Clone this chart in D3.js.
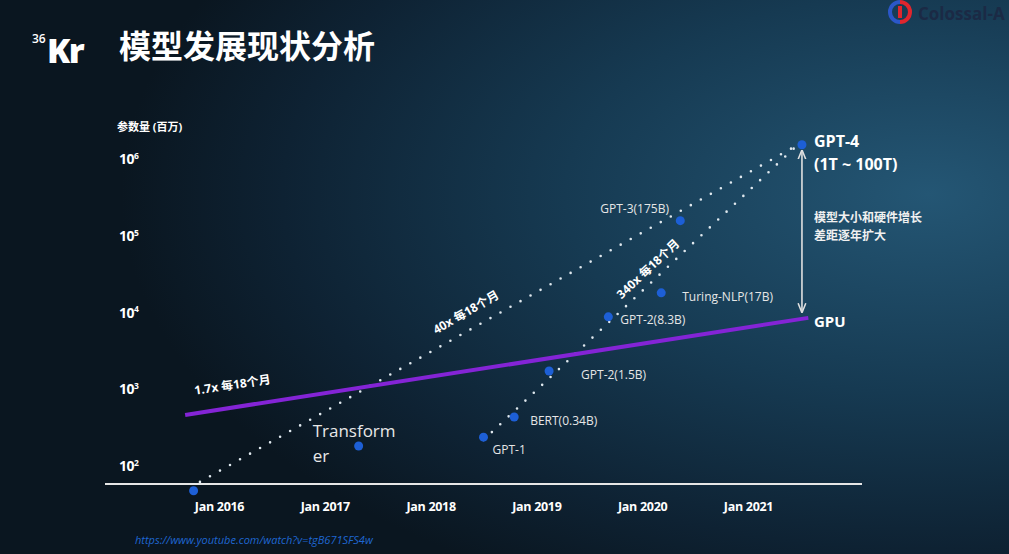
<!DOCTYPE html>
<html><head><meta charset="utf-8">
<script src="https://cdn.jsdelivr.net/npm/d3@7"></script>
<style>
html,body{margin:0;padding:0;background:#0b1722;overflow:hidden}
svg{display:block}
text{font-family:"Open Sans","Noto Sans CJK SC",sans-serif}
</style></head>
<body>
<svg id="c" width="1009" height="554"></svg>
<script>
// ---- data ----
const yearTicks = [2016, 2017, 2018, 2019, 2020, 2021];
const powerTicks = [2, 3, 4, 5, 6];
const modelNames = ["", "Transformer", "GPT-1", "BERT(0.34B)", "GPT-2(1.5B)", "GPT-2(8.3B)", "Turing-NLP(17B)", "GPT-3(175B)", "GPT-4"];
const modelDates = [2015.76, 2017.32, 2018.50, 2018.79, 2019.12, 2019.68, 2020.18, 2020.36, 2021.51];
const modelParams = [49, 188, 245, 448, 1780, 9040, 18600, 162000, 1580000];
const gpuDates = [2015.68, 2021.57];
const gpuParams = [477, 8770];
const trend40Dates = [2015.82, 2021.42];
const trend40Params = [64, 1440000];
const trend340Dates = [2018.50, 2021.46];
const trend340Params = [225, 1530000];

const W = 1009, H = 554;
const svg = d3.select("#c");
const defs = svg.append("defs");
const rg = defs.append("radialGradient").attr("id","bg")
  .attr("cx","92%").attr("cy","35%").attr("r","80%");
rg.append("stop").attr("offset","0%").attr("stop-color","#245674");
rg.append("stop").attr("offset","45%").attr("stop-color","#163a52");
rg.append("stop").attr("offset","80%").attr("stop-color","#0e2233");
rg.append("stop").attr("offset","100%").attr("stop-color","#0a1620");
svg.append("rect").attr("width",W).attr("height",H).attr("fill","url(#bg)");

const mk = defs.append("marker").attr("id","ah").attr("viewBox","0 0 10 10")
  .attr("refX",9).attr("refY",5).attr("markerWidth",6).attr("markerHeight",6)
  .attr("orient","auto-start-reverse");
mk.append("path").attr("d","M0,1 L10,5 L0,9").attr("fill","none").attr("stroke","#e0e0e0").attr("stroke-width",1.6);

// scales
const x = d3.scaleLinear().domain([2016, 2021]).range([219, 748]);
const y = d3.scaleLog().domain([1e2, 1e6]).range([467, 160]);

// header
svg.append("text").attr("x",32).attr("y",43).attr("fill","#fff").attr("font-size",12).attr("font-weight",600).text("36");
svg.append("text").attr("x",47).attr("y",63).attr("fill","#fff").attr("font-size",34).attr("font-weight",800)
  .attr("font-family","Roboto, sans-serif").attr("letter-spacing",-1.5).text("Kr");
svg.append("text").attr("x",119).attr("y",58).attr("fill","#fff").attr("font-size",32).attr("font-weight",700)
  .attr("font-family","Noto Sans CJK SC").text("模型发展现状分析");
// colossal logo
const lg = svg.append("g").attr("transform","translate(900,12)");
lg.append("path").attr("d", d3.arc()({innerRadius:8,outerRadius:12,startAngle:-Math.PI,endAngle:0})).attr("fill","#2b57c8");
lg.append("path").attr("d", d3.arc()({innerRadius:8,outerRadius:12,startAngle:0,endAngle:Math.PI})).attr("fill","#e0262e");
lg.append("rect").attr("x",-2).attr("y",-6).attr("width",4).attr("height",12).attr("fill","#e0262e");
svg.append("text").attr("x",918).attr("y",20).attr("fill","#1b2a45").attr("font-size",17).attr("font-weight",700)
  .attr("font-family","Lato, sans-serif").text("Colossal-A");

// y axis title
svg.append("text").attr("x",117).attr("y",131).attr("fill","#fff").attr("font-size",11).attr("font-weight",700)
  .attr("font-family","Noto Sans CJK SC").text("参数量 (百万)");

// y axis
const ya = svg.append("g").attr("transform","translate(119,0)")
  .call(d3.axisRight(y).tickValues(powerTicks.map(p=>Math.pow(10,p))).tickSize(0).tickFormat(""));
ya.select(".domain").remove();
ya.selectAll(".tick").each(function(d){
  const t = d3.select(this).append("text").attr("fill","#fff").attr("font-weight",700).attr("dy","0.35em");
  t.append("tspan").attr("font-size",14).attr("letter-spacing",-0.5).text("10");
  t.append("tspan").attr("font-size",8.5).attr("dy","-0.6em").text(Math.round(Math.log10(d)));
});

// x axis
const xa = svg.append("g").attr("transform","translate(0,484)")
  .call(d3.axisBottom(x).tickValues(yearTicks).tickSize(0).tickPadding(18).tickFormat(d=>"Jan " + d));
xa.select(".domain").remove();
xa.selectAll("text").attr("fill","#fff").attr("font-size",12.5).attr("font-weight",700)
  .attr("font-family","'Open Sans', sans-serif").attr("letter-spacing",-0.3);

// baseline
svg.append("line").attr("x1",105).attr("x2",862).attr("y1",484).attr("y2",484)
  .attr("stroke","#e6e6e6").attr("stroke-width",2.2);

// dotted trend lines
const line = d3.line().x(d=>x(d[0])).y(d=>y(d[1]));
[[trend40Dates,trend40Params],[trend340Dates,trend340Params]].forEach(([ds,ps])=>{
  svg.append("path").attr("d", line(ds.map((d,i)=>[d,ps[i]])))
    .attr("fill","none").attr("stroke","#dfe8ee").attr("stroke-width",2.6)
    .attr("stroke-linecap","round").attr("stroke-dasharray","0 11.5");
});

// gpu line
svg.append("path").attr("d", line(gpuDates.map((d,i)=>[d,gpuParams[i]])))
  .attr("fill","none").attr("stroke","#8424d6").attr("stroke-width",4);

// model dots
svg.append("g").selectAll("circle").data(modelDates).join("circle")
  .attr("cx",d=>x(d)).attr("cy",(d,i)=>y(modelParams[i])).attr("r",4.5).attr("fill","#1d5fd6");

// labels
const lbl = (tx,ty,s,size,weight,fill) => svg.append("text").attr("x",tx).attr("y",ty)
  .attr("fill",fill||"#e6e6e6").attr("font-size",size).attr("font-weight",weight||400).text(s);
const px = i => x(modelDates[i]), py = i => y(modelParams[i]);
lbl(px(1)-46, py(1)-9, "Transform", 17, 400, "#e8e8e8");
lbl(px(1)-46, py(1)+16, "er", 17, 400, "#e8e8e8");
lbl(px(2)+9, py(2)+17, modelNames[2], 12);
lbl(px(3)+16, py(3)+8, modelNames[3], 12);
lbl(px(4)+32, py(4)+8, modelNames[4], 12);
lbl(px(5)+12, py(5)+7, modelNames[5], 12);
lbl(px(6)+21, py(6)+8, modelNames[6], 12);
lbl(px(7)-80, py(7)-8, modelNames[7], 12);

// GPT-4 / GPU labels
lbl(814, 147, "GPT-4", 16, 700, "#fff");
lbl(814, 170, "(1T ~ 100T)", 16, 700, "#fff");
lbl(814, 327, "GPU", 15, 700, "#fff");
svg.append("text").attr("x",814).attr("y",222).attr("fill","#f0f0f0").attr("font-size",12).attr("font-weight",700)
  .attr("font-family","Noto Sans CJK SC").text("模型大小和硬件增长");
svg.append("text").attr("x",814).attr("y",240).attr("fill","#f0f0f0").attr("font-size",12).attr("font-weight",700)
  .attr("font-family","Noto Sans CJK SC").text("差距逐年扩大");

// double arrow
svg.append("line").attr("x1",x(modelDates[8])).attr("x2",x(modelDates[8]))
  .attr("y1",y(modelParams[8])+6).attr("y2",y(gpuParams[1])-6)
  .attr("stroke","#e0e0e0").attr("stroke-width",1.6)
  .attr("marker-start","url(#ah)").attr("marker-end","url(#ah)");

// rate labels
const rate = (tx,ty,ang,s) => svg.append("text").attr("transform",`translate(${tx},${ty}) rotate(${ang})`)
  .attr("text-anchor","middle").attr("fill","#fff").attr("font-size",12).attr("font-weight",700)
  .attr("font-family","'Open Sans','Noto Sans CJK SC',sans-serif").text(s);
rate(233, 389, -8.5, "1.7x 每18个月");
rate(468, 316, -30, "40x 每18个月");
rate(651, 272, -43, "340x 每18个月");

// source url
svg.append("text").attr("x",135).attr("y",544).attr("fill","#1f66d1").attr("font-size",11)
  .attr("font-style","italic").text("https://www.youtube.com/watch?v=tgB671SFS4w");
</script>
</body></html>
